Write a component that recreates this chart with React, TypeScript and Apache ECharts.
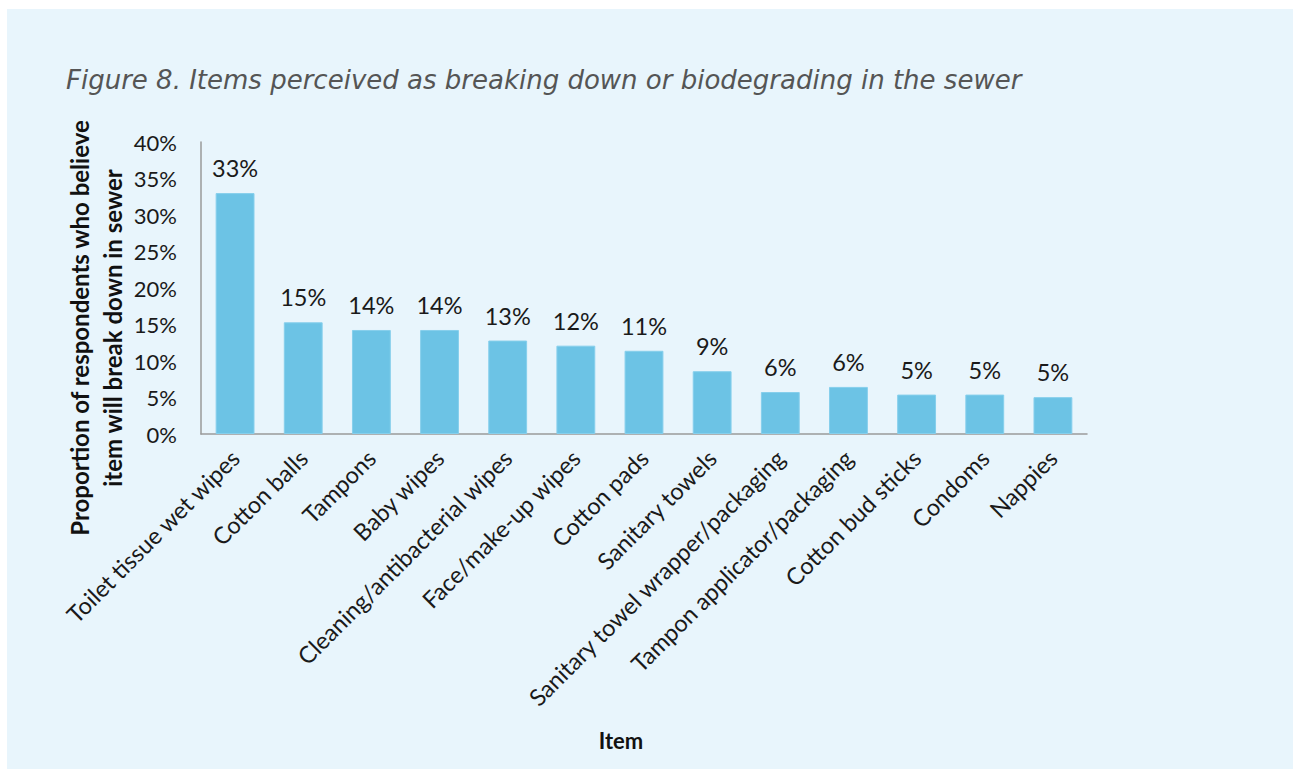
import React, { useEffect, useRef } from "react";
import * as echarts from "echarts";

const categories = [
  "Toilet tissue wet wipes",
  "Cotton balls",
  "Tampons",
  "Baby wipes",
  "Cleaning/antibacterial wipes",
  "Face/make-up wipes",
  "Cotton pads",
  "Sanitary towels",
  "Sanitary towel wrapper/packaging",
  "Tampon applicator/packaging",
  "Cotton bud sticks",
  "Condoms",
  "Nappies",
];
const values = [33, 15.3, 14.25, 14.25, 12.8, 12.1, 11.4, 8.6, 5.75, 6.45, 5.4, 5.4, 5.05];
const yTicks = { min: 0, max: 40, interval: 5 };
const titleText = "Figure 8. Items perceived as breaking down or biodegrading in the sewer";
const yAxisName = "Proportion of respondents who believe\nitem will break down in sewer";
const xAxisName = "Item";

const FONT = "Lato, 'Open Sans', sans-serif";

export default function App() {
  const ref = useRef<HTMLDivElement>(null);
  useEffect(() => {
    if (!ref.current) return;
    const chart = echarts.init(ref.current, null, { renderer: "svg" });
    chart.setOption({
      animation: false,
      backgroundColor: "#ffffff",
      graphic: [
        {
          type: "rect",
          z: -10,
          shape: { x: 7, y: 9, width: 1286, height: 760 },
          style: { fill: "#E8F5FC" },
          silent: true,
        },
        {
          type: "text",
          x: 66,
          y: 80,
          style: {
            text: titleText,
            font: "italic 26px 'DejaVu Sans', sans-serif",
            fill: "#555555",
            textAlign: "left",
            textVerticalAlign: "middle",
          },
        },
        {
          type: "text",
          x: 96,
          y: 328,
          rotation: Math.PI / 2,
          style: {
            text: yAxisName,
            font: `bold 24px ${FONT}`,
            fill: "#111",
            textAlign: "center",
            textVerticalAlign: "middle",
            lineHeight: 33,
          },
        },
        {
          type: "text",
          x: 621,
          y: 740,
          style: {
            text: xAxisName,
            font: `bold 22px ${FONT}`,
            fill: "#111",
            textAlign: "center",
            textVerticalAlign: "middle",
          },
        },
      ],
      grid: { left: 201, top: 142, right: 206, bottom: 335 },
      xAxis: {
        type: "category",
        data: categories,
        axisLine: { show: true, lineStyle: { color: "#9a9a9a", width: 1.5 } },
        axisTick: { show: false },
        axisLabel: {
          rotate: 45,
          interval: 0,
          margin: 20,
          fontFamily: FONT,
          fontSize: 23.5,
          color: "#1a1a1a",
        },
      },
      yAxis: {
        type: "value",
        min: yTicks.min,
        max: yTicks.max,
        interval: yTicks.interval,
        axisLine: { show: true, lineStyle: { color: "#9a9a9a", width: 1.5 } },
        axisTick: { show: false },
        splitLine: { show: false },
        axisLabel: {
          formatter: "{value}%",
          margin: 24,
          fontFamily: FONT,
          fontSize: 22,
          color: "#1a1a1a",
        },
      },
      series: [
        {
          type: "bar",
          data: values,
          barWidth: "57%",
          itemStyle: { color: "#6CC3E5", borderColor: "#86CFEC", borderWidth: 1 },
          label: {
            show: true,
            position: "top",
            distance: 13,
            formatter: (p: any) => `${Math.round(p.value)}%`,
            fontFamily: FONT,
            fontSize: 23.5,
            color: "#1a1a1a",
          },
        },
      ],
    });
    return () => chart.dispose();
  }, []);
  return (
    <div
      ref={ref}
      style={{ position: "fixed", left: 0, top: 0, width: 1293, height: 769 }}
    />
  );
}
